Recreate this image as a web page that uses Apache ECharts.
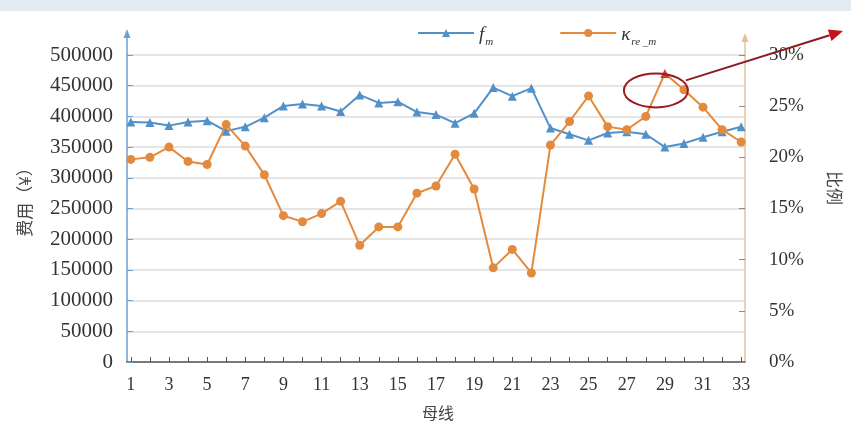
<!DOCTYPE html>
<html>
<head>
<meta charset="utf-8">
<script src="https://cdn.jsdelivr.net/npm/echarts@6/dist/echarts.min.js"></script>
<style>
  html, body { margin: 0; padding: 0; background: #ffffff; }
  #chart { width: 851px; height: 424px; }
</style>
</head>
<body>
<div id="chart"></div>
<script>
// Bus numbers (x axis) and the labelled subset
const buses = [1,2,3,4,5,6,7,8,9,10,11,12,13,14,15,16,17,18,19,20,21,22,23,24,25,26,27,28,29,30,31,32,33];
const busLabels = [1,3,5,7,9,11,13,15,17,19,21,23,25,27,29,31,33];

// Cost per bus, f_m (yuan)
const costFm = [391000, 390000, 385000, 391000, 393000, 376000, 383000, 398000, 417000, 420000,
                417000, 408000, 435000, 422000, 424000, 407000, 403000, 389000, 405000, 447000,
                433000, 446000, 381000, 371000, 361000, 373000, 375000, 371000, 350000, 356000,
                366000, 375000, 383000];

// Ratio per bus, κ_re_m (%)
const ratioK = [19.8, 20.0, 21.0, 19.6, 19.3, 23.2, 21.1, 18.3, 14.3, 13.7,
                14.5, 15.7, 11.4, 13.2, 13.2, 16.5, 17.2, 20.3, 16.9, 9.2,
                11.0, 8.7, 21.2, 23.5, 26.0, 23.0, 22.7, 24.0, 28.2, 26.6,
                24.9, 22.7, 21.5];

// Highlighted bus (peak ratio)
const peakBus = 29;

const SERIF = '"Liberation Serif", "Times New Roman", serif';
const CJK = '"Noto Sans CJK SC", sans-serif';
const BLUE = '#5290c8';
const ORANGE = '#e38a3e';

const G = { left: 127, right: 106, top: 55, bottom: 62 };

const chart = echarts.init(document.getElementById('chart'), null, { renderer: 'canvas' });

const option = {
  backgroundColor: '#ffffff',
  animation: false,
  grid: { left: G.left, right: G.right, top: G.top, bottom: G.bottom },
  legend: {
    top: 20,
    left: 412,
    itemWidth: 56,
    itemHeight: 10,
    itemGap: 66,
    data: ['fm', 'kre'],
    formatter: function (name) {
      return name === 'fm' ? '{i|f}{s|m}' : '{i|κ}{s|re _m}';
    },
    textStyle: {
      rich: {
        i: { fontFamily: SERIF, fontStyle: 'italic', fontSize: 19, color: '#333', lineHeight: 22, verticalAlign: 'bottom' },
        s: { fontFamily: SERIF, fontStyle: 'italic', fontSize: 11, color: '#333', lineHeight: 22, verticalAlign: 'bottom', padding: [0, 0, -4, 1] }
      }
    }
  },
  xAxis: {
    type: 'value',
    min: 0.8,
    max: 33.2,
    splitLine: { show: false },
    axisLine: { lineStyle: { color: '#555', width: 1.5 } },
    axisTick: { show: true, inside: true, length: 5, customValues: buses, lineStyle: { color: '#555' } },
    axisLabel: {
      customValues: busLabels,
      fontFamily: SERIF, fontSize: 18, color: '#333', margin: 14
    }
  },
  yAxis: [
    {
      type: 'value',
      min: 0,
      max: 500000,
      interval: 50000,
      axisLine: { show: true, lineStyle: { color: '#6f9fcf', width: 1.5 } },
      axisTick: { show: true, inside: true, length: 6, lineStyle: { color: '#6f9fcf' } },
      axisLabel: { fontFamily: SERIF, fontSize: 21, color: '#333', margin: 14, formatter: v => String(v) },
      splitLine: { show: true, lineStyle: { color: '#dcdcdc', width: 1.5 } }
    },
    {
      type: 'value',
      min: 0,
      max: 30,
      interval: 5,
      axisLine: { show: true, lineStyle: { color: '#e3c29c', width: 1.5 } },
      axisTick: { show: true, inside: true, length: 6, lineStyle: { color: '#8a8a8a' } },
      axisLabel: { fontFamily: SERIF, fontSize: 19, color: '#333', margin: 24, formatter: '{value}%' },
      splitLine: { show: false }
    }
  ],
  series: [
    {
      name: 'fm',
      type: 'line',
      yAxisIndex: 0,
      data: buses.map((b, i) => [b, costFm[i]]),
      symbol: 'triangle',
      symbolSize: 9,
      itemStyle: { color: BLUE },
      lineStyle: { color: BLUE, width: 2 },
      z: 2
    },
    {
      name: 'kre',
      type: 'line',
      yAxisIndex: 1,
      data: buses.map((b, i) => b === peakBus
        ? { value: [b, ratioK[i]], itemStyle: { color: '#d83a2a' }, symbol: 'triangle' }
        : [b, ratioK[i]]),
      symbol: 'circle',
      symbolSize: 9,
      itemStyle: { color: ORANGE },
      lineStyle: { color: ORANGE, width: 2 },
      z: 3
    }
  ],
  graphic: [
    { type: 'rect', id: 'band', z: -10, shape: { x: 0, y: 0, width: 851, height: 11 }, style: { fill: '#e3ebf1' } },
    {
      type: 'text', id: 'yname',
      rotation: Math.PI / 2,
      style: { text: '费用（¥）', font: '17px ' + CJK, fill: '#444', align: 'center', verticalAlign: 'middle' },
      x: 25, y: 198
    },
    {
      type: 'text', id: 'rname',
      rotation: -Math.PI / 2,
      style: { text: '比例', font: '17px ' + CJK, fill: '#444', align: 'center', verticalAlign: 'middle' },
      x: 834, y: 188
    },
    {
      type: 'text', id: 'xname',
      style: { text: '母线', font: '16px ' + CJK, fill: '#444', align: 'center', verticalAlign: 'middle' },
      x: 438, y: 413
    }
  ]
};

chart.setOption(option);

// Axis arrows rising above the top of the plot, plus the callout on the peak point
const toPx = (axis, v) => chart.convertToPixel({ xAxisIndex: 0, yAxisIndex: axis }, v);
const leftTop = toPx(0, [0.8, 500000]);
const rightTop = toPx(1, [33.2, 30]);
const peakIdx = buses.indexOf(peakBus);
const peak = toPx(1, [peakBus, ratioK[peakIdx]]);

function axisArrow(id, x, y0, y1, color) {
  return [
    { type: 'line', id: id + 'L', z: 5, shape: { x1: x, y1: y0, x2: x, y2: y1 + 4 }, style: { stroke: color, lineWidth: 1.5 } },
    { type: 'polygon', id: id + 'H', z: 5, shape: { points: [[x, y1], [x - 3.5, y1 + 9], [x + 3.5, y1 + 9]] }, style: { fill: color } }
  ];
}

const cx = peak[0] - 9, cy = peak[1] + 17;
const start = [peak[0] + 21, peak[1] + 7];
const end = [843, 31];
const ang = Math.atan2(end[1] - start[1], end[0] - start[0]);
const hl = 14, hw = 6;
const base = [end[0] - hl * Math.cos(ang), end[1] - hl * Math.sin(ang)];
const head = [
  end,
  [base[0] + hw * Math.sin(ang), base[1] - hw * Math.cos(ang)],
  [base[0] - hw * Math.sin(ang), base[1] + hw * Math.cos(ang)]
];

chart.setOption({
  graphic: [].concat(
    axisArrow('la', leftTop[0], leftTop[1], 29, '#6f9fcf'),
    axisArrow('ra', rightTop[0], rightTop[1], 33, '#e3c29c'),
    [
      { type: 'ellipse', id: 'ring', z: 10, shape: { cx: cx, cy: cy, rx: 32, ry: 17 }, style: { fill: null, stroke: '#9c1a22', lineWidth: 2 } },
      { type: 'line', id: 'callout', z: 10, shape: { x1: start[0], y1: start[1], x2: base[0], y2: base[1] }, style: { stroke: '#8e1a22', lineWidth: 2 } },
      { type: 'polygon', id: 'calloutHead', z: 10, shape: { points: head }, style: { fill: '#c0141e' } }
    ]
  )
});
</script>
</body>
</html>
